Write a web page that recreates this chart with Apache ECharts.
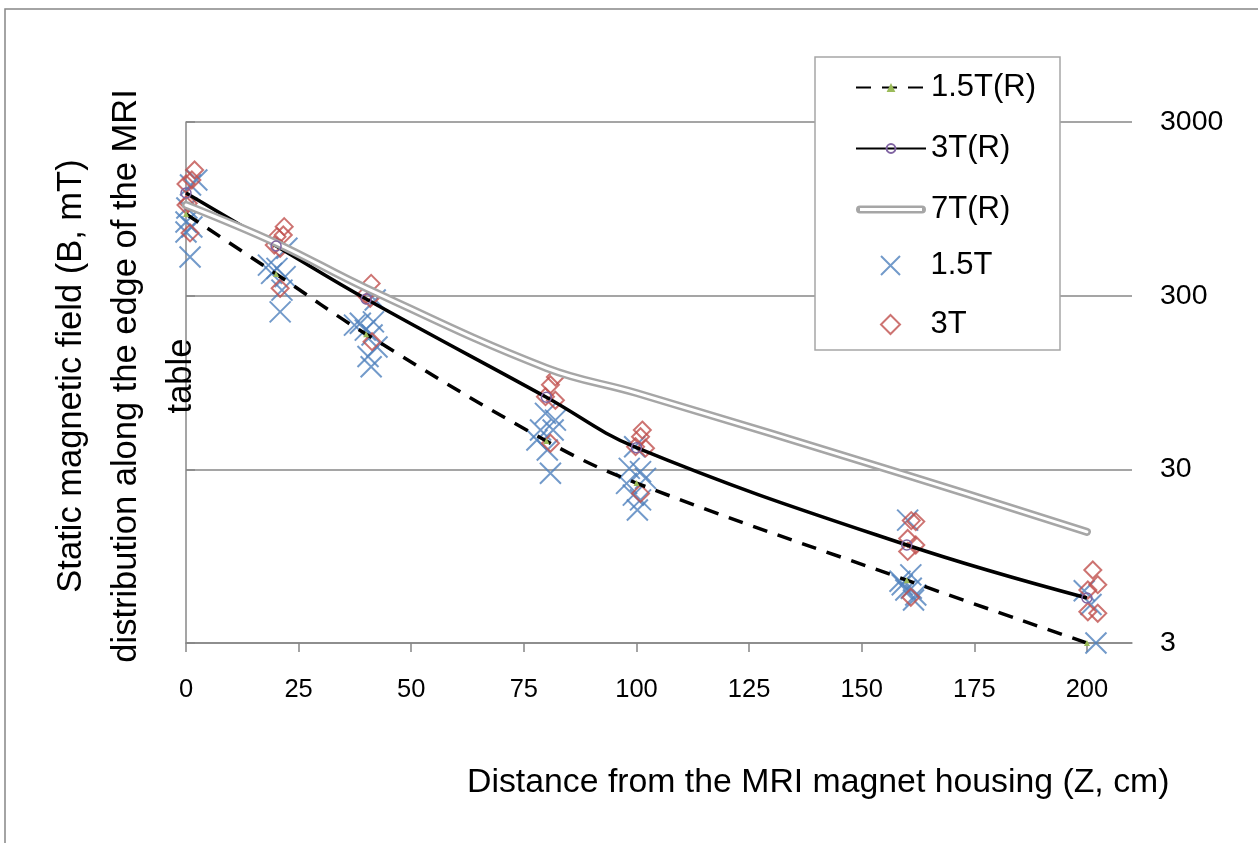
<!DOCTYPE html>
<html>
<head>
<meta charset="utf-8">
<script src="https://cdn.jsdelivr.net/npm/echarts@6/dist/echarts.min.js"></script>
<style>
html,body{margin:0;padding:0;background:#fff;}
#chart{width:1258px;height:843px;}
</style>
</head>
<body>
<div id="chart"></div>
<script>
// ---- data ----
var xTicks = [0, 25, 50, 75, 100, 125, 150, 175, 200];
var yTickLabels = ['3', '30', '300', '3000'];

var refX = [0, 20, 40, 80, 100, 160, 200];
var ref15 = [886, 400, 180, 43.7, 25, 6.9, 3.0];
var ref3 = [1170, 580, 287, 78, 40, 11, 5.45];
var ref7 = [998, 603, 332, 115, 82.5, 27.8, 13.1];

var meas15X = [2.4, 1.0, 0.2, 0, 1.3, 0, 0.9,
  22.4, 18.3, 20.2, 19, 22, 21.3, 20.9,
  37.4, 38.7, 39.8, 41.6, 41.3, 42.4, 40.4, 41.1, 42,
  79.8, 82, 78.7, 81.5, 77.9, 80.2, 80.9,
  99.6, 98.4, 100.9, 102, 97.8, 99.3, 100.9, 100.2,
  160.2, 160.9, 158.5, 159.8, 162, 161.5, 159, 161,
  199.4, 200.9, 202];
var meas15B = [1390, 1300, 960, 797, 745, 698, 501,
  562, 450, 431, 403, 386, 323, 242,
  203, 208, 190, 212, 178, 152, 134, 117, 283,
  63, 57.6, 50.5, 50.5, 44.3, 38.8, 28.5,
  40.5, 30.4, 29.1, 26.6, 24.9, 21.3, 20, 17.5,
  15.3, 7.4, 6.8, 6.06, 5.67, 5.3, 6.5, 6.2,
  6.0, 5.0, 3.0];

var meas3X = [1.9, 1.3, 0, 0, 0.5, 0.9,
  21.8, 20.2, 21.6, 19.6, 20.9, 20.9,
  41.1, 39.8, 40.9, 41.3,
  82, 80.9, 79.8, 82, 80.9,
  101.3, 100.9, 99.8, 102, 100.9,
  161, 162, 160.2, 162, 160.2, 160.9,
  201.3, 202.4, 200.2, 200.2, 202.4];
var meas3B = [1587, 1390, 1318, 998, 1020, 689,
  749, 656, 671, 587, 562, 331,
  353, 303, 290, 163,
  102, 92, 78.6, 75, 42.4,
  50.5, 46.2, 40.5, 39.7, 21.8,
  15.2, 15.0, 12.0, 11.0, 10.1, 5.5,
  7.9, 6.5, 6.06, 4.54, 4.45];

// log axis mapping: value axis in decades above 3 mT
function lg(v) { return Math.log10(v / 3); }
function pairs(xs, ys) { return xs.map(function (x, i) { return [x, lg(ys[i])]; }); }

var FONT = 'Liberation Sans, Arial, sans-serif';
var GRID = '#878787';
var xIcon = 'path://M0,0L20,20M20,0L0,20';
var diamondIcon = 'path://M10,0L20,10L10,20L0,10Z';
var doubleIcon = 'path://M4,0L66,0A4,4,0,0,1,66,8L4,8A4,4,0,0,1,4,0ZM4,2.5L4,5.5L66,5.5L66,2.5Z';

var chart = echarts.init(document.getElementById('chart'), null, { renderer: 'canvas' });
chart.setOption({
  animation: false,
  backgroundColor: '#fff',
  grid: { left: 186, right: 126, top: 122, bottom: 200, containLabel: false },
  xAxis: {
    type: 'value', min: 0, max: 210, interval: 25,
    axisLine: { show: true, lineStyle: { color: GRID, width: 1.5 } },
    axisTick: { show: true, length: 9, lineStyle: { color: GRID, width: 1.5 } },
    splitLine: { show: false },
    axisLabel: {
      showMaxLabel: false, margin: 34, color: '#000', fontSize: 25.5, fontFamily: FONT,
      formatter: function (v) { return xTicks.indexOf(v) >= 0 ? String(v) : ''; }
    }
  },
  yAxis: {
    type: 'value', position: 'right', min: 0, max: 3, interval: 1,
    axisLine: { show: true, lineStyle: { color: GRID, width: 1.5 } },
    axisTick: { show: true, length: 9, lineStyle: { color: GRID, width: 1.5 } },
    splitLine: { show: true, lineStyle: { color: GRID, width: 1.5 } },
    axisLabel: {
      margin: 28, color: '#000', fontSize: 28.5, fontFamily: FONT,
      formatter: function (v) { return yTickLabels[Math.round(v)]; }
    }
  },
  legend: [
    {
      data: [{ name: '1.5T(R)' }, { name: '3T(R)' },
             { name: '7T(R)', icon: doubleIcon, itemStyle: { borderWidth: 0 } }],
      orient: 'vertical', left: 855, top: 72, padding: 0,
      itemWidth: 70, itemHeight: 11, itemGap: 30, itemTextGap: 5,
      selectedMode: false, z: 10, symbolKeepAspect: true,
      textStyle: { fontSize: 31, lineHeight: 30, color: '#000', fontFamily: FONT }
    },
    {
      data: [{ name: '1.5T', icon: xIcon }, { name: '3T', icon: diamondIcon }],
      orient: 'vertical', left: 880, top: 250, padding: 0,
      itemWidth: 70, itemHeight: 19, itemGap: 28, itemTextGap: 5,
      selectedMode: false, z: 10, symbolKeepAspect: true,
      textStyle: { fontSize: 31, lineHeight: 30, color: '#000', fontFamily: FONT }
    }
  ],
  graphic: [
    { type: 'rect', z: 1, silent: true, shape: { x: 5, y: 9, width: 1300, height: 900 },
      style: { fill: 'none', stroke: GRID, lineWidth: 1.5 } },
    { type: 'rect', z: 5, silent: true, shape: { x: 815, y: 57, width: 245, height: 293 },
      style: { fill: '#fff', stroke: '#A6A6A6', lineWidth: 1.5 } },
    { type: 'text', z: 5, silent: true, x: 126, y: 376, rotation: Math.PI / 2,
      style: { text: 'Static magnetic field (B, mT)\ndistribution along the edge of the MRI\ntable',
               fontSize: 34.5, lineHeight: 55, align: 'center', verticalAlign: 'middle',
               fill: '#000', fontFamily: FONT } },
    { type: 'text', z: 5, silent: true, x: 467, y: 783,
      style: { text: 'Distance from the MRI magnet housing (Z, cm)', fontSize: 33.8,
               align: 'left', verticalAlign: 'middle', fill: '#000', fontFamily: FONT } }
  ],
  series: [
    {
      name: '1.5T(R)', type: 'line', smooth: 0.4, data: pairs(refX, ref15),
      symbol: 'triangle', symbolSize: 6,
      itemStyle: { color: '#9BBB59' },
      lineStyle: { color: '#000', width: 3.5, type: [15, 11] }
    },
    {
      name: '3T(R)', type: 'line', smooth: 0.4, data: pairs(refX, ref3),
      symbol: 'circle', symbolSize: 10,
      itemStyle: { color: 'transparent', borderColor: '#8064A2', borderWidth: 1.5 },
      lineStyle: { color: '#000', width: 3.5 }
    },
    {
      name: '7T(R)', type: 'line', smooth: 0.4, data: pairs(refX, ref7),
      symbol: 'none', color: '#A6A6A6',
      itemStyle: { color: '#A6A6A6' },
      lineStyle: { color: '#A6A6A6', width: 8, cap: 'round', join: 'round' }
    },
    {
      name: '7T(R) inner', type: 'line', smooth: 0.4, data: pairs(refX, ref7),
      symbol: 'none', silent: true,
      lineStyle: { color: '#fff', width: 3, cap: 'round', join: 'round' }
    },
    {
      name: '1.5T', type: 'scatter', data: pairs(meas15X, meas15B),
      symbol: xIcon, symbolSize: 21, symbolKeepAspect: true,
      itemStyle: { color: 'transparent', borderColor: '#4F81BD', borderWidth: 2 }
    },
    {
      name: '3T', type: 'scatter', data: pairs(meas3X, meas3B),
      symbol: diamondIcon, symbolSize: 17, symbolKeepAspect: true,
      itemStyle: { color: 'transparent', borderColor: '#C0504D', borderWidth: 2 }
    }
  ]
});
</script>
</body>
</html>
